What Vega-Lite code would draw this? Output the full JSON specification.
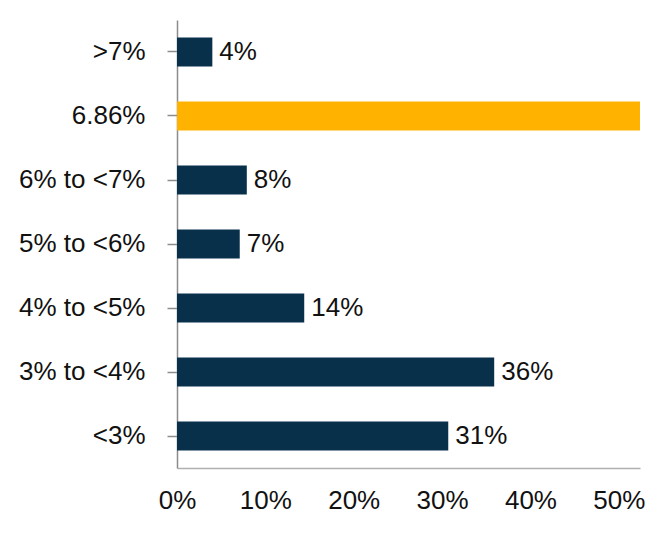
{
  "$schema": "https://vega.github.io/schema/vega-lite/v6.json",
  "autosize": "none",
  "padding": {"left": 177, "top": 20, "right": 20, "bottom": 68},
  "width": 463,
  "height": 448,
  "background": "white",
  "config": {
    "view": {"stroke": null},
    "font": "Liberation Sans"
  },
  "data": {
    "values": [
      {"cat": ">7%", "value": 0.04, "highlight": "no"},
      {"cat": "6.86%", "value": 0.524, "highlight": "yes"},
      {"cat": "6% to <7%", "value": 0.079, "highlight": "no"},
      {"cat": "5% to <6%", "value": 0.071, "highlight": "no"},
      {"cat": "4% to <5%", "value": 0.144, "highlight": "no"},
      {"cat": "3% to <4%", "value": 0.359, "highlight": "no"},
      {"cat": "<3%", "value": 0.307, "highlight": "no"}
    ]
  },
  "encoding": {
    "y": {
      "field": "cat",
      "type": "nominal",
      "sort": null,
      "scale": {"paddingInner": 0.547, "paddingOuter": 0.2735},
      "axis": {
        "title": null,
        "domainColor": "#8c8c8c",
        "domainWidth": 1.5,
        "tickColor": "#8c8c8c",
        "tickWidth": 1.5,
        "tickSize": 10,
        "labelPadding": 22,
        "labelFontSize": 26,
        "labelColor": "#111111",
        "labelFont": "Liberation Sans"
      }
    },
    "x": {
      "field": "value",
      "type": "quantitative",
      "scale": {"domain": [0, 0.524], "nice": false, "zero": true},
      "axis": {
        "title": null,
        "values": [0, 0.1, 0.2, 0.3, 0.4, 0.5],
        "format": ".0%",
        "grid": false,
        "ticks": false,
        "domainColor": "#b0b0b0",
        "domainWidth": 1.5,
        "labelPadding": 19,
        "labelFontSize": 26,
        "labelColor": "#111111",
        "labelFont": "Liberation Sans",
        "labelFlush": false
      }
    }
  },
  "layer": [
    {
      "mark": {"type": "bar", "clip": true},
      "encoding": {
        "color": {
          "field": "highlight",
          "type": "nominal",
          "scale": {"domain": ["no", "yes"], "range": ["#08304b", "#ffb300"]},
          "legend": null
        }
      }
    },
    {
      "transform": [{"filter": "datum.highlight == 'no'"}],
      "mark": {"type": "text", "align": "left", "baseline": "middle", "dx": 7, "fontSize": 26, "color": "#111111", "font": "Liberation Sans"},
      "encoding": {
        "text": {"field": "value", "type": "quantitative", "format": ".0%"}
      }
    }
  ]
}
